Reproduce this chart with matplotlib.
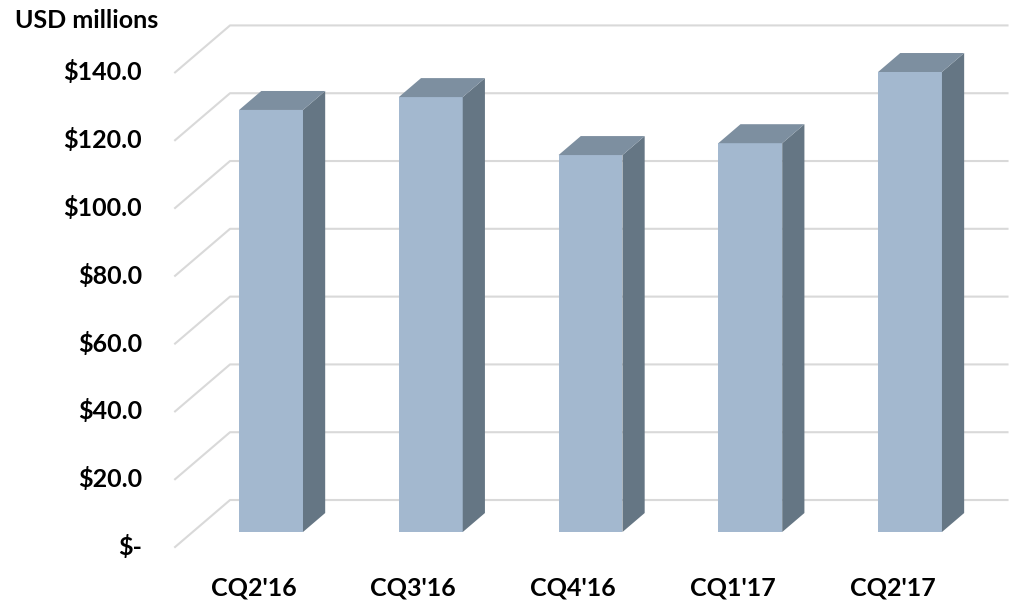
import matplotlib
matplotlib.use("Agg")
import matplotlib.pyplot as plt
from matplotlib.patches import Polygon

plt.rcParams['font.family'] = ['Lato', 'DejaVu Sans']
plt.rcParams['font.weight'] = 'bold'

# data
quarters = ["CQ2'16", "CQ3'16", "CQ4'16", "CQ1'17", "CQ2'17"]
revenue = [124.5, 128.3, 111.2, 114.7, 135.7]
ticks = [0, 20, 40, 60, 80, 100, 120, 140]
tick_labels = ["$-", "$20.0", "$40.0", "$60.0", "$80.0", "$100.0", "$120.0", "$140.0"]

# 3d look: depth offsets in data units (x per category, y per value)
DX, DY = 0.344, 13.86          # full floor depth
f_front, f_back = 0.319, 0.723  # bar sits in the middle of the floor
bar_w = 0.40
c_front, c_side, c_top = "#A3B8CF", "#657684", "#7D8FA0"
grid_c = "#D9D9D9"

fig = plt.figure(figsize=(10.15, 6.03), dpi=100)
ax = fig.add_axes([0, 0, 1, 1])
ax.set_xlim(-1.587, 4.767)
ax.set_ylim(-16.52, 161.36)

# walls / gridlines
x_left, x_right = -0.491, 4.72
for t in ticks:
    ax.plot([x_left, x_left + DX, x_right], [t, t + DY, t + DY],
            color=grid_c, lw=1.5, zorder=1)

# bars
ox, oy = DX * f_front, DY * f_front
sx, sy = DX * (f_back - f_front), DY * (f_back - f_front)
for i, v in enumerate(revenue):
    xc = i + ox
    ax.bar(xc, v, width=bar_w, bottom=oy, color=c_front, zorder=3)
    xl, xr = xc - bar_w / 2, xc + bar_w / 2
    top = oy + v
    ax.add_patch(Polygon([(xr, oy), (xr + sx, oy + sy), (xr + sx, top + sy), (xr, top)],
                         closed=True, facecolor=c_side, edgecolor="none", zorder=3))
    ax.add_patch(Polygon([(xl, top), (xl + sx, top + sy), (xr + sx, top + sy), (xr, top)],
                         closed=True, facecolor=c_top, edgecolor="none", zorder=3))

# axis labels
ax.spines[['top', 'right']].set_visible(False)
ax.spines['left'].set_position(('data', -0.698))
ax.spines['bottom'].set_position(('data', -8.6))
ax.spines['left'].set_visible(False)
ax.spines['bottom'].set_visible(False)
ax.set_yticks(ticks, tick_labels, fontsize=18, fontweight='bold')
ax.set_xticks(range(len(quarters)), quarters, fontsize=18, fontweight='bold')
ax.tick_params(length=0, pad=0)
for lab in ax.get_yticklabels():
    lab.set_verticalalignment('center')

ax.text(-1.493, 155.2, "USD millions", fontsize=18, fontweight='bold', va='center', ha='left')

fig.savefig("out.png", dpi=100)
